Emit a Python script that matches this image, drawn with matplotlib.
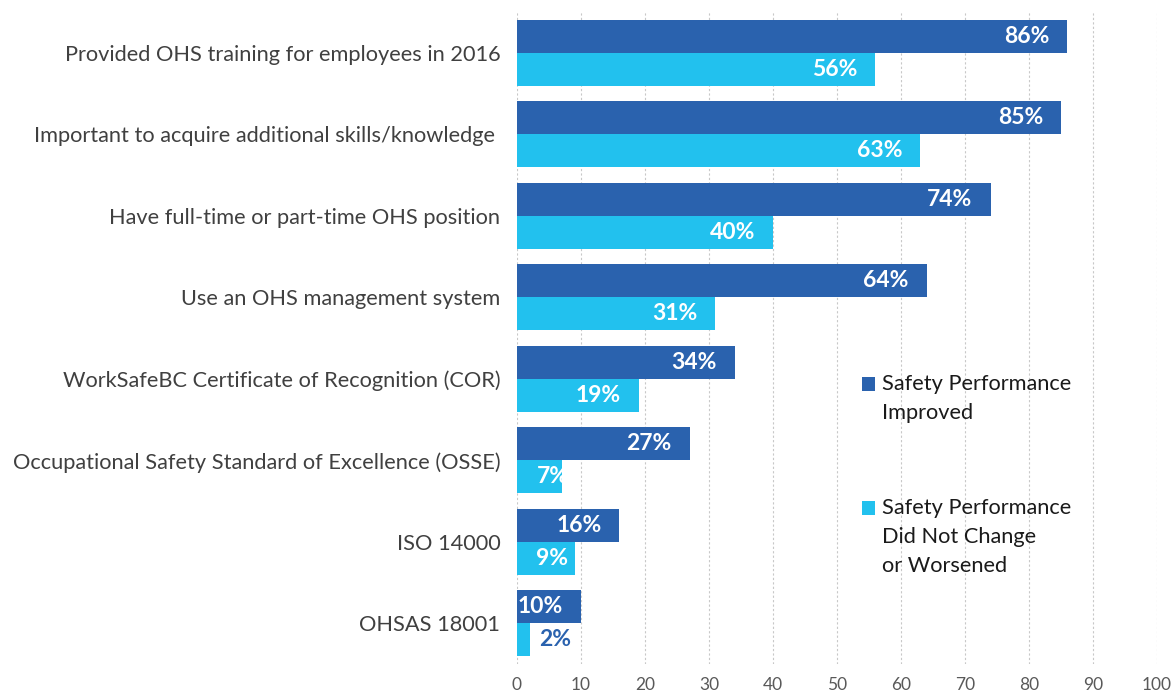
import numpy as np
from matplotlib import pyplot as plt
from matplotlib.patches import Patch, Rectangle
from matplotlib.legend_handler import HandlerPatch

categories = [
    "Provided OHS training for employees in 2016",
    "Important to acquire additional skills/knowledge ",
    "Have full-time or part-time OHS position",
    "Use an OHS management system",
    "WorkSafeBC Certificate of Recognition (COR)",
    "Occupational Safety Standard of Excellence (OSSE)",
    "ISO 14000",
    "OHSAS 18001",
]
improved = [86, 85, 74, 64, 34, 27, 16, 10]
not_improved = [56, 63, 40, 31, 19, 7, 9, 2]
series_names = [
    "Safety Performance\nImproved",
    "Safety Performance\nDid Not Change\nor Worsened",
]
x_ticks = [0, 10, 20, 30, 40, 50, 60, 70, 80, 90, 100]

dark = "#2A62AE"
light = "#22C1EE"
label_size = 15.7
line_pitch = 20.9  # points between legend text lines

plt.rcParams["font.family"] = ["Lato", "DejaVu Sans"]


class FirstLineSquare(HandlerPatch):
    # put the legend square next to the first line of a multi-line label
    def __init__(self, n_lines):
        super().__init__()
        self.shift = (n_lines - 1) / 2 * line_pitch

    def create_artists(self, legend, orig_handle, xdescent, ydescent, width, height, fontsize, trans):
        p = Rectangle((-xdescent, -ydescent + self.shift), width, height,
                      facecolor = orig_handle.get_facecolor(), edgecolor = "none", transform = trans)
        return [p]


fig = plt.figure(figsize = (11.76, 6.98), dpi = 100)
ax = fig.add_axes([517 / 1176, 1 - 664 / 698, 640 / 1176, 652 / 698])

y = np.arange(len(categories))
h = 0.405
bars_a = ax.barh(y - h / 2, improved, height = h, color = dark, zorder = 3)
bars_b = ax.barh(y + h / 2, not_improved, height = h, color = light, zorder = 3)


def label_bars(bars, values):
    for bar, v in zip(bars, values):
        yc = bar.get_y() + bar.get_height() / 2
        kw = dict(va = "center", fontsize = 16.5, fontweight = "bold", zorder = 4,
                  textcoords = "offset points")
        if v >= 10:
            ax.annotate(f"{v}%", (v, yc), xytext = (-13, 0), ha = "right", color = "white", **kw)
        elif v >= 5:
            ax.annotate(f"{v}%", (0, yc), xytext = (14, 0), ha = "left", color = "white", **kw)
        else:
            ax.annotate(f"{v}%", (v, yc), xytext = (7, 0), ha = "left", color = dark, **kw)


label_bars(bars_a, improved)
label_bars(bars_b, not_improved)

ax.set_ylim(len(categories) - 0.5, -0.5)
ax.set_xlim(0, 100)
ax.set_yticks(y)
ax.set_yticklabels(categories, fontsize = label_size, color = "#404040")
ax.set_xticks(x_ticks)
ax.set_xticklabels([str(t) for t in x_ticks], fontsize = 12.5, color = "#595959")
ax.tick_params(axis = "both", length = 0)
ax.tick_params(axis = "y", pad = 12)
ax.tick_params(axis = "x", pad = 9)
ax.xaxis.grid(True, linestyle = (0, (2, 2)), color = "#C8C8C8", linewidth = 0.8, zorder = 0)
for s in ax.spines.values():
    s.set_visible(False)

handles = [Patch(color = dark), Patch(color = light)]
leg = ax.legend(handles, series_names, loc = "upper left", bbox_to_anchor = (0.539, 0.445),
                frameon = False, fontsize = label_size, handlelength = 0.6, handleheight = 0.6,
                handletextpad = 0.3, labelspacing = 3.42, borderaxespad = 0, borderpad = 0,
                handler_map = {handles[0]: FirstLineSquare(2), handles[1]: FirstLineSquare(3)})
for t in leg.get_texts():
    t.set_color("#1a1a1a")
    t.set_linespacing(1.58)

plt.savefig("out.png", dpi = 100)
